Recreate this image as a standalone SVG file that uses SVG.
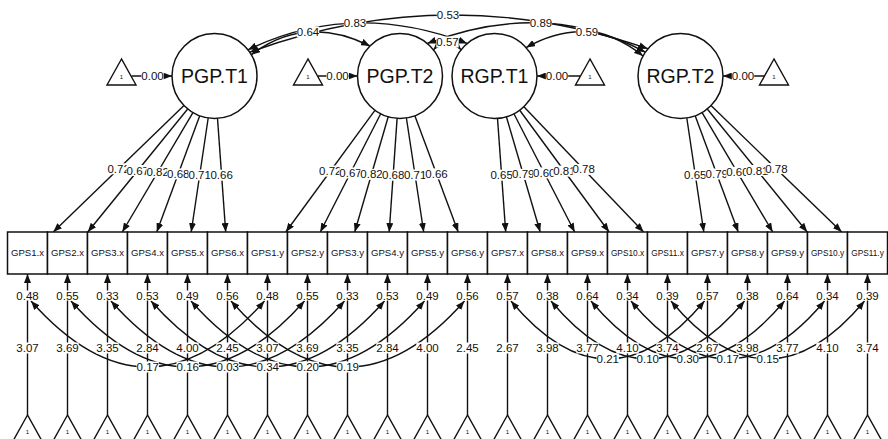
<svg xmlns="http://www.w3.org/2000/svg" width="888" height="439" viewBox="0 0 888 439">
<style>
text{font-family:"Liberation Sans",Arial,sans-serif;fill:#111}
.lat circle{fill:#fff;stroke:#111;stroke-width:1.5}
.lat text{font-size:19.5px;text-anchor:middle}
.man rect{fill:#fff;stroke:#111;stroke-width:1.5}
.man text{font-size:9.6px;text-anchor:middle}
.man text.s{font-size:8.3px}
.tri polygon{fill:#fff;stroke:#111;stroke-width:1.4}
.tri text{font-size:6px;text-anchor:middle}
.edges path,.edges line{fill:none;stroke:#111;stroke-width:1.4}
.ar{marker-end:url(#ah)}
.ar2{marker-end:url(#ah);marker-start:url(#ah)}
.lb rect{fill:#fff}
.lb text{font-size:11.5px;text-anchor:middle}
</style>
<defs>
<marker id="ah" viewBox="0 0 9 7" refX="9" refY="3.5" markerWidth="9" markerHeight="7" markerUnits="userSpaceOnUse" orient="auto-start-reverse"><path d="M0,0 L9,3.5 L0,7 Z" fill="#111"/></marker>
</defs>
<rect width="888" height="439" fill="#fff"/>
<g class="edges" id="connectors">
<!-- latent covariances -->
<path class="ar2" d="M251.3,54.75 Q305.35,13.6 370,46"/>
<path class="ar2" d="M248,49.8 Q352.4,-0.6 467.2,43.4"/>
<path class="ar2" d="M249.7,52.2 Q447.2,-20.45 647.9,48.7"/>
<path class="ar2" d="M433.5,49.8 Q447.75,34.2 461,49.8"/>
<path class="ar2" d="M427.3,43.4 Q545.7,-1.8 645.3,52.2"/>
<path class="ar2" d="M526.1,47.6 Q589.45,12.2 643,56"/>
<!-- latent intercepts -->
<line class="ar" x1="131.5" y1="76" x2="172" y2="76"/>
<line class="ar" x1="318" y1="76" x2="357.5" y2="76"/>
<line class="ar" x1="580.5" y1="76" x2="537" y2="76"/>
<line class="ar" x1="764.5" y1="76" x2="723" y2="76"/>
<!-- loadings -->
<line class="ar" x1="183.96" y1="105.56" x2="53.3" y2="232"/>
<line class="ar" x1="187.7" y1="109" x2="87.8" y2="232"/>
<line class="ar" x1="192.9" y1="112.6" x2="122.3" y2="232"/>
<line class="ar" x1="199.75" y1="115.86" x2="156.75" y2="232"/>
<line class="ar" x1="208.2" y1="118" x2="191.2" y2="232"/>
<line class="ar" x1="217.5" y1="118.4" x2="225.7" y2="232"/>
<line class="ar" x1="374.9" y1="110.3" x2="285.8" y2="232"/>
<line class="ar" x1="380.7" y1="113.8" x2="320.3" y2="232"/>
<line class="ar" x1="388.2" y1="116.8" x2="354.75" y2="232"/>
<line class="ar" x1="397.1" y1="118.4" x2="389.2" y2="232"/>
<line class="ar" x1="406.4" y1="118" x2="423.7" y2="232"/>
<line class="ar" x1="414.85" y1="115.8" x2="458.2" y2="232"/>
<line class="ar" x1="497.5" y1="118.4" x2="505.7" y2="232"/>
<line class="ar" x1="506.4" y1="116.8" x2="540.2" y2="232"/>
<line class="ar" x1="513.9" y1="113.8" x2="574.7" y2="232"/>
<line class="ar" x1="519.7" y1="110.25" x2="609.1" y2="232"/>
<line class="ar" x1="523.9" y1="106.7" x2="643.6" y2="232"/>
<line class="ar" x1="686.8" y1="118" x2="703.8" y2="232"/>
<line class="ar" x1="695.25" y1="115.9" x2="738.25" y2="232"/>
<line class="ar" x1="702.1" y1="112.6" x2="772.7" y2="232"/>
<line class="ar" x1="707.3" y1="109" x2="807.2" y2="232"/>
<line class="ar" x1="711" y1="105.6" x2="841.7" y2="232"/>
<!-- manifest intercepts -->
<line class="ar" x1="27.5" y1="415" x2="27.5" y2="274"/>
<line class="ar" x1="67.5" y1="415" x2="67.5" y2="274"/>
<line class="ar" x1="107.5" y1="415" x2="107.5" y2="274"/>
<line class="ar" x1="147.5" y1="415" x2="147.5" y2="274"/>
<line class="ar" x1="187.5" y1="415" x2="187.5" y2="274"/>
<line class="ar" x1="227.5" y1="415" x2="227.5" y2="274"/>
<line class="ar" x1="267.5" y1="415" x2="267.5" y2="274"/>
<line class="ar" x1="307.5" y1="415" x2="307.5" y2="274"/>
<line class="ar" x1="347.5" y1="415" x2="347.5" y2="274"/>
<line class="ar" x1="387.5" y1="415" x2="387.5" y2="274"/>
<line class="ar" x1="427.5" y1="415" x2="427.5" y2="274"/>
<line class="ar" x1="467.5" y1="415" x2="467.5" y2="274"/>
<line class="ar" x1="507.5" y1="415" x2="507.5" y2="274"/>
<line class="ar" x1="547.5" y1="415" x2="547.5" y2="274"/>
<line class="ar" x1="587.5" y1="415" x2="587.5" y2="274"/>
<line class="ar" x1="627.5" y1="415" x2="627.5" y2="274"/>
<line class="ar" x1="667.5" y1="415" x2="667.5" y2="274"/>
<line class="ar" x1="707.5" y1="415" x2="707.5" y2="274"/>
<line class="ar" x1="747.5" y1="415" x2="747.5" y2="274"/>
<line class="ar" x1="787.5" y1="415" x2="787.5" y2="274"/>
<line class="ar" x1="827.5" y1="415" x2="827.5" y2="274"/>
<line class="ar" x1="867.5" y1="415" x2="867.5" y2="274"/>
<!-- residual covariances -->
<path class="ar2" d="M31,301 Q147.75,433 264.5,301"/>
<path class="ar2" d="M71,301 Q187.75,433 304.5,301"/>
<path class="ar2" d="M111,301 Q227.75,433 344.5,301"/>
<path class="ar2" d="M151,301 Q267.75,433 384.5,301"/>
<path class="ar2" d="M191,301 Q307.75,433 424.5,301"/>
<path class="ar2" d="M231,301 Q347.75,433 464.5,301"/>
<path class="ar2" d="M511,301 Q607.75,417 704.5,301"/>
<path class="ar2" d="M551,301 Q647.75,417 744.5,301"/>
<path class="ar2" d="M591,301 Q687.75,417 784.5,301"/>
<path class="ar2" d="M631,301 Q727.75,417 824.5,301"/>
<path class="ar2" d="M671,301 Q767.75,417 864.5,301"/>
</g>
<g id="latents" class="lat">
<g id="PGP.T1"><circle cx="214.5" cy="76" r="42.5"/><text x="214.5" y="83">PGP.T1</text></g>
<g id="PGP.T2"><circle cx="400" cy="76" r="42.5"/><text x="400" y="83">PGP.T2</text></g>
<g id="RGP.T1"><circle cx="494.5" cy="76" r="42.5"/><text x="494.5" y="83">RGP.T1</text></g>
<g id="RGP.T2"><circle cx="680.5" cy="76" r="42.5"/><text x="680.5" y="83">RGP.T2</text></g>
</g>
<g id="triangles-top" class="tri">
<g id="int.PGP.T1"><polygon points="121.5,59 107,85 136,85"/><text x="121.5" y="79">1</text></g>
<g id="int.PGP.T2"><polygon points="308,59 293.5,85 322.5,85"/><text x="308" y="79">1</text></g>
<g id="int.RGP.T1"><polygon points="590,59 575.5,85 604.5,85"/><text x="590" y="79">1</text></g>
<g id="int.RGP.T2"><polygon points="774,59 759.5,85 788.5,85"/><text x="774" y="79">1</text></g>
</g>
<g id="manifests" class="man">
<g id="GPS1.x"><rect x="7.5" y="232" width="40" height="42"/><text x="27.5" y="256.4">GPS1.x</text></g>
<g id="GPS2.x"><rect x="47.5" y="232" width="40" height="42"/><text x="67.5" y="256.4">GPS2.x</text></g>
<g id="GPS3.x"><rect x="87.5" y="232" width="40" height="42"/><text x="107.5" y="256.4">GPS3.x</text></g>
<g id="GPS4.x"><rect x="127.5" y="232" width="40" height="42"/><text x="147.5" y="256.4">GPS4.x</text></g>
<g id="GPS5.x"><rect x="167.5" y="232" width="40" height="42"/><text x="187.5" y="256.4">GPS5.x</text></g>
<g id="GPS6.x"><rect x="207.5" y="232" width="40" height="42"/><text x="227.5" y="256.4">GPS6.x</text></g>
<g id="GPS1.y"><rect x="247.5" y="232" width="40" height="42"/><text x="267.5" y="256.4">GPS1.y</text></g>
<g id="GPS2.y"><rect x="287.5" y="232" width="40" height="42"/><text x="307.5" y="256.4">GPS2.y</text></g>
<g id="GPS3.y"><rect x="327.5" y="232" width="40" height="42"/><text x="347.5" y="256.4">GPS3.y</text></g>
<g id="GPS4.y"><rect x="367.5" y="232" width="40" height="42"/><text x="387.5" y="256.4">GPS4.y</text></g>
<g id="GPS5.y"><rect x="407.5" y="232" width="40" height="42"/><text x="427.5" y="256.4">GPS5.y</text></g>
<g id="GPS6.y"><rect x="447.5" y="232" width="40" height="42"/><text x="467.5" y="256.4">GPS6.y</text></g>
<g id="GPS7.x"><rect x="487.5" y="232" width="40" height="42"/><text x="507.5" y="256.4">GPS7.x</text></g>
<g id="GPS8.x"><rect x="527.5" y="232" width="40" height="42"/><text x="547.5" y="256.4">GPS8.x</text></g>
<g id="GPS9.x"><rect x="567.5" y="232" width="40" height="42"/><text x="587.5" y="256.4">GPS9.x</text></g>
<g id="GPS10.x"><rect x="607.5" y="232" width="40" height="42"/><text class="s" x="627.5" y="256">GPS10.x</text></g>
<g id="GPS11.x"><rect x="647.5" y="232" width="40" height="42"/><text class="s" x="667.5" y="256">GPS11.x</text></g>
<g id="GPS7.y"><rect x="687.5" y="232" width="40" height="42"/><text x="707.5" y="256.4">GPS7.y</text></g>
<g id="GPS8.y"><rect x="727.5" y="232" width="40" height="42"/><text x="747.5" y="256.4">GPS8.y</text></g>
<g id="GPS9.y"><rect x="767.5" y="232" width="40" height="42"/><text x="787.5" y="256.4">GPS9.y</text></g>
<g id="GPS10.y"><rect x="807.5" y="232" width="40" height="42"/><text class="s" x="827.5" y="256">GPS10.y</text></g>
<g id="GPS11.y"><rect x="847.5" y="232" width="40" height="42"/><text class="s" x="867.5" y="256">GPS11.y</text></g>
</g>
<g id="triangles-bottom" class="tri">
<g id="int1"><polygon points="27.5,415 13,441 42,441"/><text x="27.5" y="434">1</text></g>
<g id="int2"><polygon points="67.5,415 53,441 82,441"/><text x="67.5" y="434">1</text></g>
<g id="int3"><polygon points="107.5,415 93,441 122,441"/><text x="107.5" y="434">1</text></g>
<g id="int4"><polygon points="147.5,415 133,441 162,441"/><text x="147.5" y="434">1</text></g>
<g id="int5"><polygon points="187.5,415 173,441 202,441"/><text x="187.5" y="434">1</text></g>
<g id="int6"><polygon points="227.5,415 213,441 242,441"/><text x="227.5" y="434">1</text></g>
<g id="int7"><polygon points="267.5,415 253,441 282,441"/><text x="267.5" y="434">1</text></g>
<g id="int8"><polygon points="307.5,415 293,441 322,441"/><text x="307.5" y="434">1</text></g>
<g id="int9"><polygon points="347.5,415 333,441 362,441"/><text x="347.5" y="434">1</text></g>
<g id="int10"><polygon points="387.5,415 373,441 402,441"/><text x="387.5" y="434">1</text></g>
<g id="int11"><polygon points="427.5,415 413,441 442,441"/><text x="427.5" y="434">1</text></g>
<g id="int12"><polygon points="467.5,415 453,441 482,441"/><text x="467.5" y="434">1</text></g>
<g id="int13"><polygon points="507.5,415 493,441 522,441"/><text x="507.5" y="434">1</text></g>
<g id="int14"><polygon points="547.5,415 533,441 562,441"/><text x="547.5" y="434">1</text></g>
<g id="int15"><polygon points="587.5,415 573,441 602,441"/><text x="587.5" y="434">1</text></g>
<g id="int16"><polygon points="627.5,415 613,441 642,441"/><text x="627.5" y="434">1</text></g>
<g id="int17"><polygon points="667.5,415 653,441 682,441"/><text x="667.5" y="434">1</text></g>
<g id="int18"><polygon points="707.5,415 693,441 722,441"/><text x="707.5" y="434">1</text></g>
<g id="int19"><polygon points="747.5,415 733,441 762,441"/><text x="747.5" y="434">1</text></g>
<g id="int20"><polygon points="787.5,415 773,441 802,441"/><text x="787.5" y="434">1</text></g>
<g id="int21"><polygon points="827.5,415 813,441 842,441"/><text x="827.5" y="434">1</text></g>
<g id="int22"><polygon points="867.5,415 853,441 882,441"/><text x="867.5" y="434">1</text></g>
</g>
<g id="labels" class="lb">
<!-- latent covariance labels -->
<rect x="296.8" y="26.5" width="22.4" height="11"/><text x="308" y="36">0.64</text>
<rect x="343.8" y="17.5" width="22.4" height="11"/><text x="355" y="27">0.83</text>
<rect x="436.8" y="9.5" width="22.4" height="11"/><text x="448" y="19">0.53</text>
<rect x="436.3" y="36.5" width="22.4" height="11"/><text x="447.5" y="46">0.57</text>
<rect x="529.8" y="17.5" width="22.4" height="11"/><text x="541" y="27">0.89</text>
<rect x="575.8" y="26.5" width="22.4" height="11"/><text x="587" y="36">0.59</text>
<!-- latent intercept labels -->
<rect x="141.3" y="70.5" width="22.4" height="11"/><text x="152.5" y="80">0.00</text>
<rect x="326.3" y="70.5" width="22.4" height="11"/><text x="337.5" y="80">0.00</text>
<rect x="545.8" y="70.5" width="22.4" height="11"/><text x="557" y="80">0.00</text>
<rect x="731.8" y="70.5" width="22.4" height="11"/><text x="743" y="80">0.00</text>
<!-- loadings -->
<rect x="107.4" y="163.3" width="22.4" height="11"/><text x="118.6" y="172.8">0.72</text>
<rect x="126.6" y="165" width="22.4" height="11"/><text x="137.8" y="174.5">0.67</text>
<rect x="146.4" y="166.8" width="22.4" height="11"/><text x="157.6" y="176.3">0.82</text>
<rect x="167.1" y="168.4" width="22.4" height="11"/><text x="178.3" y="177.9">0.68</text>
<rect x="188.5" y="169.5" width="22.4" height="11"/><text x="199.7" y="179">0.71</text>
<rect x="210.4" y="169.7" width="22.4" height="11"/><text x="221.6" y="179.2">0.66</text>
<rect x="319.1" y="165.6" width="22.4" height="11"/><text x="330.3" y="175.1">0.72</text>
<rect x="339.3" y="167.4" width="22.4" height="11"/><text x="350.5" y="176.9">0.67</text>
<rect x="360.3" y="168.9" width="22.4" height="11"/><text x="371.5" y="178.4">0.82</text>
<rect x="382" y="169.7" width="22.4" height="11"/><text x="393.2" y="179.2">0.68</text>
<rect x="403.9" y="169.5" width="22.4" height="11"/><text x="415.1" y="179">0.71</text>
<rect x="425.3" y="168.4" width="22.4" height="11"/><text x="436.5" y="177.9">0.66</text>
<rect x="490.4" y="169.7" width="22.4" height="11"/><text x="501.6" y="179.2">0.65</text>
<rect x="512.1" y="168.9" width="22.4" height="11"/><text x="523.3" y="178.4">0.79</text>
<rect x="533.1" y="167.4" width="22.4" height="11"/><text x="544.3" y="176.9">0.60</text>
<rect x="553.2" y="165.6" width="22.4" height="11"/><text x="564.4" y="175.1">0.81</text>
<rect x="572.5" y="163.9" width="22.4" height="11"/><text x="583.7" y="173.4">0.78</text>
<rect x="684.1" y="169.5" width="22.4" height="11"/><text x="695.3" y="179">0.65</text>
<rect x="705.55" y="168.5" width="22.4" height="11"/><text x="716.75" y="178">0.79</text>
<rect x="726.2" y="166.8" width="22.4" height="11"/><text x="737.4" y="176.3">0.60</text>
<rect x="746.05" y="165" width="22.4" height="11"/><text x="757.25" y="174.5">0.81</text>
<rect x="765.2" y="163.1" width="22.4" height="11"/><text x="776.4" y="172.6">0.78</text>
<!-- variances -->
<rect x="16.3" y="290.5" width="22.4" height="10"/><text x="27.5" y="300">0.48</text>
<rect x="56.3" y="290.5" width="22.4" height="10"/><text x="67.5" y="300">0.55</text>
<rect x="96.3" y="290.5" width="22.4" height="10"/><text x="107.5" y="300">0.33</text>
<rect x="136.3" y="290.5" width="22.4" height="10"/><text x="147.5" y="300">0.53</text>
<rect x="176.3" y="290.5" width="22.4" height="10"/><text x="187.5" y="300">0.49</text>
<rect x="216.3" y="290.5" width="22.4" height="10"/><text x="227.5" y="300">0.56</text>
<rect x="256.3" y="290.5" width="22.4" height="10"/><text x="267.5" y="300">0.48</text>
<rect x="296.3" y="290.5" width="22.4" height="10"/><text x="307.5" y="300">0.55</text>
<rect x="336.3" y="290.5" width="22.4" height="10"/><text x="347.5" y="300">0.33</text>
<rect x="376.3" y="290.5" width="22.4" height="10"/><text x="387.5" y="300">0.53</text>
<rect x="416.3" y="290.5" width="22.4" height="10"/><text x="427.5" y="300">0.49</text>
<rect x="456.3" y="290.5" width="22.4" height="10"/><text x="467.5" y="300">0.56</text>
<rect x="496.3" y="290.5" width="22.4" height="10"/><text x="507.5" y="300">0.57</text>
<rect x="536.3" y="290.5" width="22.4" height="10"/><text x="547.5" y="300">0.38</text>
<rect x="576.3" y="290.5" width="22.4" height="10"/><text x="587.5" y="300">0.64</text>
<rect x="616.3" y="290.5" width="22.4" height="10"/><text x="627.5" y="300">0.34</text>
<rect x="656.3" y="290.5" width="22.4" height="10"/><text x="667.5" y="300">0.39</text>
<rect x="696.3" y="290.5" width="22.4" height="10"/><text x="707.5" y="300">0.57</text>
<rect x="736.3" y="290.5" width="22.4" height="10"/><text x="747.5" y="300">0.38</text>
<rect x="776.3" y="290.5" width="22.4" height="10"/><text x="787.5" y="300">0.64</text>
<rect x="816.3" y="290.5" width="22.4" height="10"/><text x="827.5" y="300">0.34</text>
<rect x="856.3" y="290.5" width="22.4" height="10"/><text x="867.5" y="300">0.39</text>
<!-- intercepts -->
<rect x="16.3" y="342.5" width="22.4" height="11"/><text x="27.5" y="352">3.07</text>
<rect x="56.3" y="342.5" width="22.4" height="11"/><text x="67.5" y="352">3.69</text>
<rect x="96.3" y="342.5" width="22.4" height="11"/><text x="107.5" y="352">3.35</text>
<rect x="136.3" y="342.5" width="22.4" height="11"/><text x="147.5" y="352">2.84</text>
<rect x="176.3" y="342.5" width="22.4" height="11"/><text x="187.5" y="352">4.00</text>
<rect x="216.3" y="342.5" width="22.4" height="11"/><text x="227.5" y="352">2.45</text>
<rect x="256.3" y="342.5" width="22.4" height="11"/><text x="267.5" y="352">3.07</text>
<rect x="296.3" y="342.5" width="22.4" height="11"/><text x="307.5" y="352">3.69</text>
<rect x="336.3" y="342.5" width="22.4" height="11"/><text x="347.5" y="352">3.35</text>
<rect x="376.3" y="342.5" width="22.4" height="11"/><text x="387.5" y="352">2.84</text>
<rect x="416.3" y="342.5" width="22.4" height="11"/><text x="427.5" y="352">4.00</text>
<rect x="456.3" y="342.5" width="22.4" height="11"/><text x="467.5" y="352">2.45</text>
<rect x="496.3" y="342.5" width="22.4" height="11"/><text x="507.5" y="352">2.67</text>
<rect x="536.3" y="342.5" width="22.4" height="11"/><text x="547.5" y="352">3.98</text>
<rect x="576.3" y="342.5" width="22.4" height="11"/><text x="587.5" y="352">3.77</text>
<rect x="616.3" y="342.5" width="22.4" height="11"/><text x="627.5" y="352">4.10</text>
<rect x="656.3" y="342.5" width="22.4" height="11"/><text x="667.5" y="352">3.74</text>
<rect x="696.3" y="342.5" width="22.4" height="11"/><text x="707.5" y="352">2.67</text>
<rect x="736.3" y="342.5" width="22.4" height="11"/><text x="747.5" y="352">3.98</text>
<rect x="776.3" y="342.5" width="22.4" height="11"/><text x="787.5" y="352">3.77</text>
<rect x="816.3" y="342.5" width="22.4" height="11"/><text x="827.5" y="352">4.10</text>
<rect x="856.3" y="342.5" width="22.4" height="11"/><text x="867.5" y="352">3.74</text>
<!-- residual covariances -->
<rect x="136.5" y="361.5" width="22.4" height="11"/><text x="147.75" y="371">0.17</text>
<rect x="176.5" y="361.5" width="22.4" height="11"/><text x="187.75" y="371">0.16</text>
<rect x="216.5" y="361.5" width="22.4" height="11"/><text x="227.75" y="371">0.03</text>
<rect x="256.5" y="361.5" width="22.4" height="11"/><text x="267.75" y="371">0.34</text>
<rect x="296.5" y="361.5" width="22.4" height="11"/><text x="307.75" y="371">0.20</text>
<rect x="336.5" y="361.5" width="22.4" height="11"/><text x="347.75" y="371">0.19</text>
<rect x="596.5" y="353.5" width="22.4" height="11"/><text x="607.75" y="363">0.21</text>
<rect x="636.5" y="353.5" width="22.4" height="11"/><text x="647.75" y="363">0.10</text>
<rect x="676.5" y="353.5" width="22.4" height="11"/><text x="687.75" y="363">0.30</text>
<rect x="716.5" y="353.5" width="22.4" height="11"/><text x="727.75" y="363">0.17</text>
<rect x="756.5" y="353.5" width="22.4" height="11"/><text x="767.75" y="363">0.15</text>
</g>
</svg>
